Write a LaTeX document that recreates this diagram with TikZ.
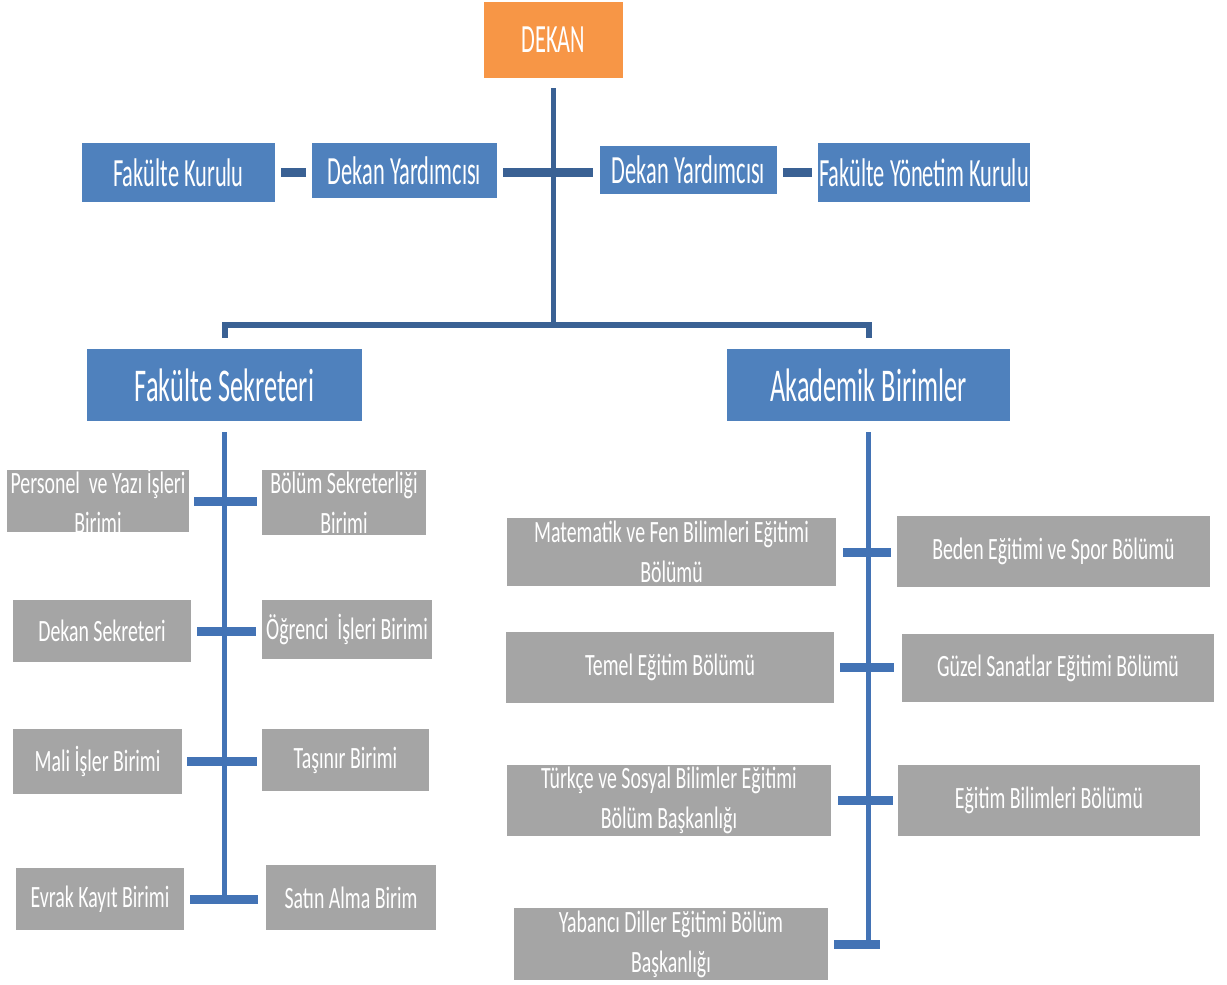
\documentclass[tikz,border=0pt]{standalone}
\usepackage{fontspec}
\newfontfamily\cfa[FakeStretch=0.56]{Carlito}
\newfontfamily\cfb[FakeStretch=0.64]{Carlito}
\definecolor{orng}{HTML}{F79646}
\definecolor{bblue}{HTML}{4F81BD}
\definecolor{ggray}{HTML}{A5A5A5}
\definecolor{topln}{HTML}{3A6194}
\definecolor{lowln}{HTML}{4373B5}
\newcommand{\mkbox}[8]{%
  \node[#1, minimum width={(#6-#4)*1pt}, minimum height={(#7-#5)*1pt}] (#3) at ({(#4+#6)/2},{(#5+#7)/2}) {};
  \node[#2] (#3t) at (#3.center) {#8};}
\begin{document}
\begin{tikzpicture}[x=1pt,y=-1pt,
  obox/.style={fill=orng, inner sep=0, draw=none},
  bbox/.style={fill=bblue, inner sep=0, draw=none},
  gbox/.style={fill=ggray, inner sep=0, draw=none},
  ttop/.style={text=white, inner sep=0, font=\cfa\fontsize{40}{46}\selectfont},
  tmid/.style={text=white, inner sep=0, font=\cfa\fontsize{47}{54}\selectfont},
  tgray/.style={text=white, inner sep=0, align=center, font=\cfb\fontsize{31}{40}\selectfont},
  topc/.style={draw=topln, line width=9pt},
  topv/.style={draw=topln, line width=4.5pt},
  lowv/.style={draw=lowln, line width=5pt},
  lowc/.style={draw=lowln, line width=9pt}]
\useasboundingbox (0,0) rectangle (1227,985);
% top level
\mkbox{obox}{ttop}{dekan}{484}{2}{623}{78}{DEKAN}
\mkbox{bbox}{ttop}{fk}{82}{143}{275}{202}{Fakülte Kurulu}
\mkbox{bbox}{ttop}{dyl}{312}{143}{497}{198}{Dekan Yardımcısı}
\mkbox{bbox}{ttop}{dyr}{600}{146}{777}{194}{Dekan Yardımcısı}
\mkbox{bbox}{ttop}{fyk}{818}{143}{1030}{202}{Fakülte Yönetim Kurulu}
\mkbox{bbox}{tmid}{fs}{87}{349}{362}{421}{Fakülte Sekreteri}
\mkbox{bbox}{tmid}{ab}{727}{349}{1010}{421}{Akademik Birimler}
\coordinate (bar) at (553,325);
% top connectors
\draw[topv] ([yshift=-10pt]dekan.south) -- (dekan.south |- bar);
\draw[topc] ([xshift=6pt]fk.east |- 0,172) -- ([xshift=-6pt]dyl.west |- 0,172);
\draw[topc] ([xshift=6pt]dyl.east |- 0,172) -- ([xshift=-7pt]dyr.west |- 0,172);
\draw[topc] ([xshift=6pt]dyr.east |- 0,172) -- ([xshift=-6pt]fyk.west |- 0,172);
\draw[topv, line width=6pt] ([yshift=11pt]fs.north) |- (bar) -| ([yshift=11pt]ab.north);
% left column
\mkbox{gbox}{tgray}{pers}{7}{470}{189}{532}{Personel\ \ ve Yazı İşleri\\Birimi}
\mkbox{gbox}{tgray}{bsek}{262}{470}{426}{535}{Bölüm Sekreterliği\\Birimi}
\mkbox{gbox}{tgray}{dsek}{13}{600}{191}{662}{Dekan Sekreteri}
\mkbox{gbox}{tgray}{ogr}{262}{600}{432}{659}{Öğrenci\ \ İşleri Birimi}
\mkbox{gbox}{tgray}{mali}{13}{729}{182}{794}{Mali İşler Birimi}
\mkbox{gbox}{tgray}{tas}{262}{729}{429}{791}{Taşınır Birimi}
\mkbox{gbox}{tgray}{evrak}{16}{868}{184}{930}{Evrak Kayıt Birimi}
\mkbox{gbox}{tgray}{satin}{266}{865}{436}{930}{Satın Alma Birim}
\draw[lowv] ([yshift=-11pt]fs.south) -- (fs.south |- evrak.east);
\draw[lowc] ([xshift=5pt]pers.east) -- ([xshift=-5pt]pers.east -| bsek.west);
\draw[lowc] ([xshift=6pt]dsek.east) -- ([xshift=-6pt]dsek.east -| ogr.west);
\draw[lowc] ([xshift=5pt]mali.east) -- ([xshift=-5pt]mali.east -| tas.west);
\draw[lowc] ([xshift=6pt]evrak.east) -- ([xshift=-8pt]evrak.east -| satin.west);
% right column
\mkbox{gbox}{tgray}{mat}{507}{518}{836}{586}{Matematik ve Fen Bilimleri Eğitimi\\Bölümü}
\mkbox{gbox}{tgray}{beden}{897}{516}{1210}{587}{Beden Eğitimi ve Spor Bölümü}
\mkbox{gbox}{tgray}{temel}{506}{632}{834}{703}{Temel Eğitim Bölümü}
\mkbox{gbox}{tgray}{guzel}{902}{634}{1214}{702}{Güzel Sanatlar Eğitimi Bölümü}
\mkbox{gbox}{tgray}{turk}{507}{765}{831}{836}{Türkçe ve Sosyal Bilimler Eğitimi\\Bölüm Başkanlığı}
\mkbox{gbox}{tgray}{egit}{898}{765}{1200}{836}{Eğitim Bilimleri Bölümü}
\mkbox{gbox}{tgray}{yab}{514}{908}{828}{980}{Yabancı Diller Eğitimi Bölüm\\Başkanlığı}
\coordinate (yabend) at (880,944);
\draw[lowv] ([yshift=-11pt]ab.south) -- (ab.south |- yab.east);
\draw[lowc] ([xshift=7pt]mat.east) -- ([xshift=-6pt]mat.east -| beden.west);
\draw[lowc] ([xshift=6pt]temel.east) -- ([xshift=-8pt]temel.east -| guzel.west);
\draw[lowc] ([xshift=7pt]turk.east) -- ([xshift=-5pt]turk.east -| egit.west);
\draw[lowc] ([xshift=6pt]yab.east) -- (yabend);
\end{tikzpicture}
\end{document}
